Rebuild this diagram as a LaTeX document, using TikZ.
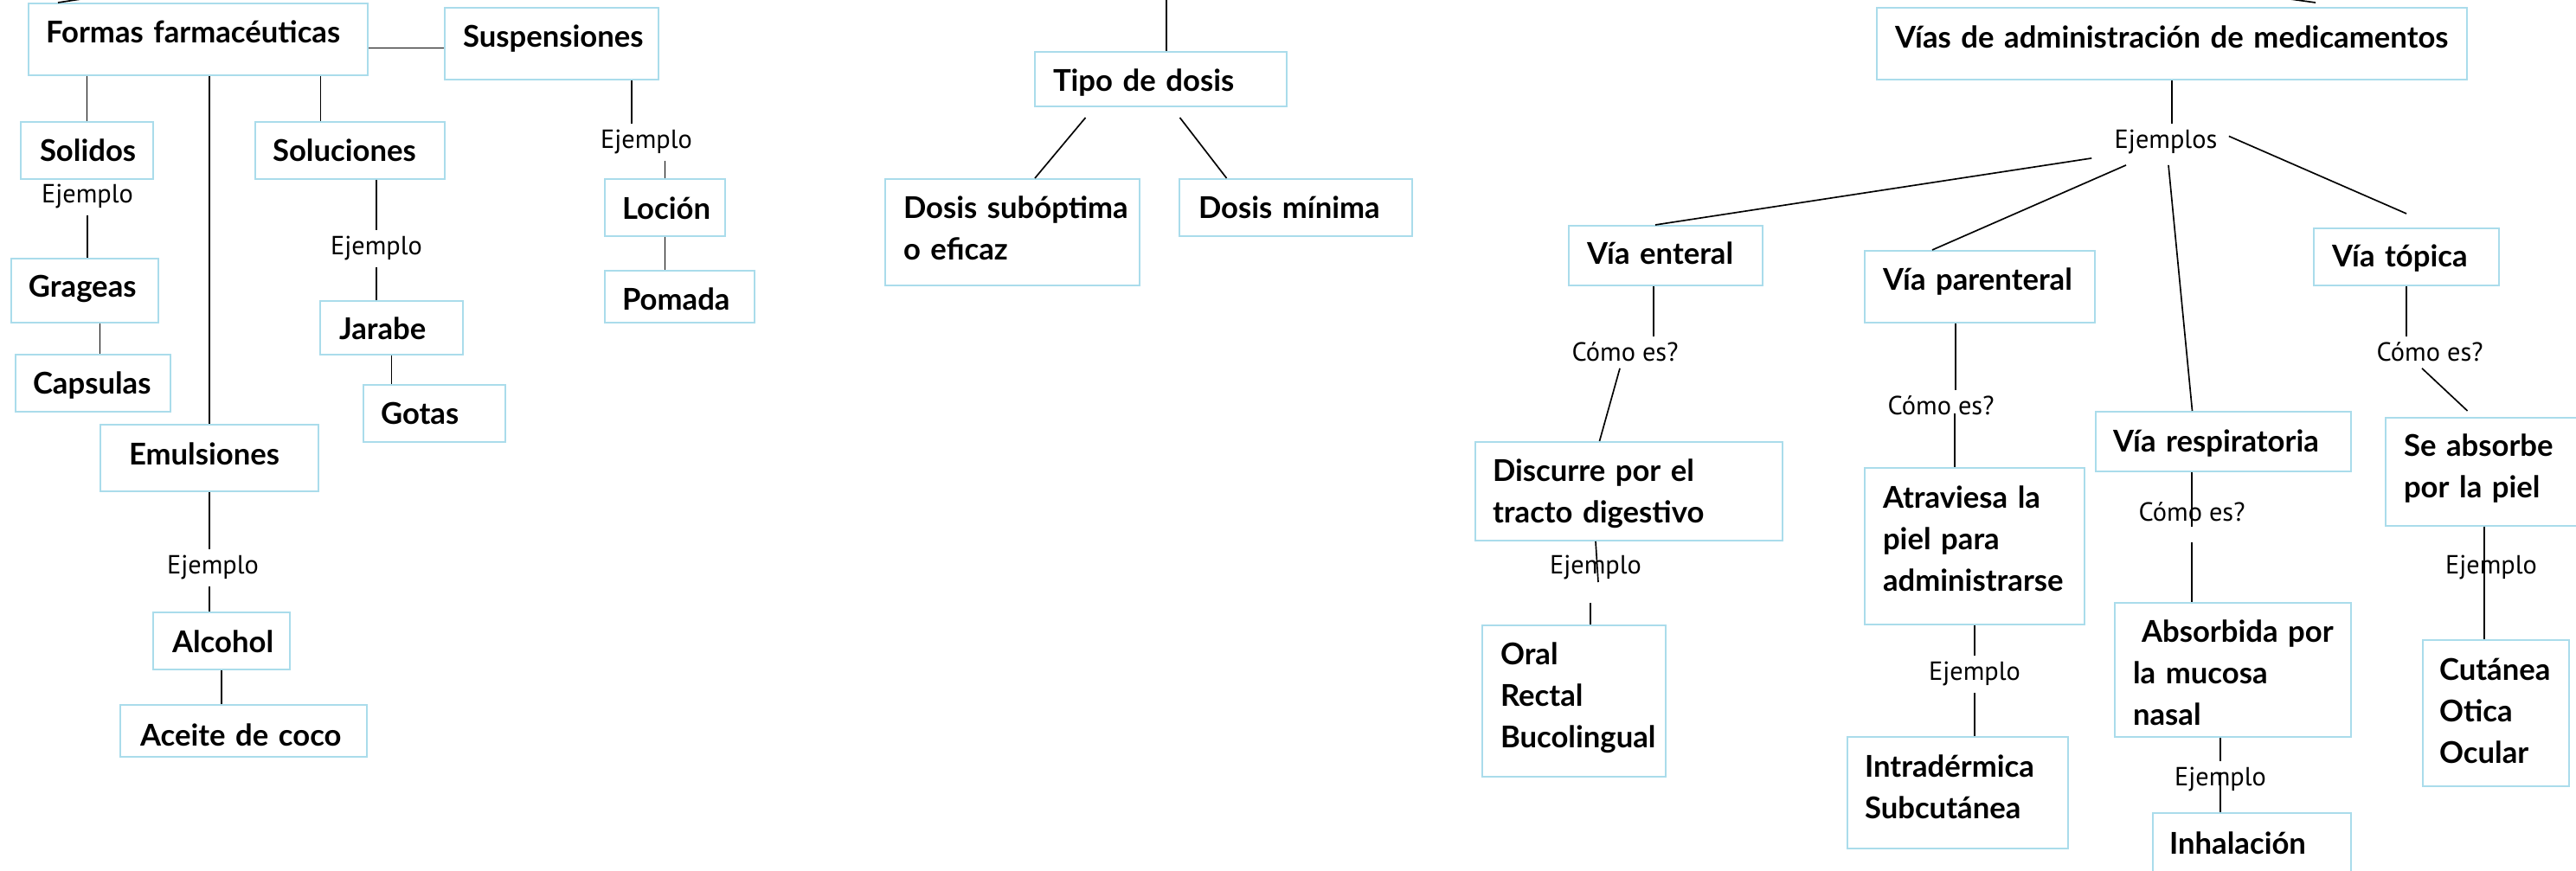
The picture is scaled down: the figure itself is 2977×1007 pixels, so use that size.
\documentclass[tikz,border=0pt]{standalone}
\usepackage{fontspec}
\setmainfont{Lato}
\newfontfamily\ptsans{PT Sans}
\hyphenpenalty=10000
\definecolor{celeste}{RGB}{170,220,235}
\tikzset{
  caja/.style={draw=celeste, line width=0.6pt, anchor=north west, align=left, inner ysep=0pt,
    font=\fontsize{10.4pt}{14.4pt}\selectfont\bfseries},
  medida/.style n args={4}{inner xsep=#1, text width=#2, text height=#3, text depth=#4},
  etiq/.style={anchor=base, inner sep=2pt, font=\ptsans\fontsize{9.1pt}{10pt}\selectfont}
}

\begin{document}
\begin{tikzpicture}[x=0.3pt, y=-0.3pt, line width=0.5pt]
    \useasboundingbox (0,0) rectangle (2977,1007);
    \node[caja, medida={6pt}{105.6pt}{13.8pt}{11.1pt}] (formas) at (32,3) {Formas~farmacéuticas};
    \node[caja, medida={6.3pt}{61.5pt}{13.8pt}{11.1pt}] (susp) at (513,8) {Suspensiones};
    \node[caja, medida={6.6pt}{32.7pt}{13.8pt}{6pt}] (solidos) at (23,140) {Solidos};
    \node[caja, medida={6pt}{53.7pt}{13.8pt}{6pt}] (soluc) at (294,140) {Soluciones};
    \node[caja, medida={6pt}{39pt}{13.5pt}{8.7pt}] (grageas) at (12,298) {Grageas};
    \node[caja, medida={6pt}{41.7pt}{13.8pt}{6pt}] (capsulas) at (17,409) {Capsulas};
    \node[caja, medida={6.6pt}{36.3pt}{13.5pt}{5.1pt}] (jarabe) at (369,347) {Jarabe};
    \node[caja, medida={6pt}{37.2pt}{13.8pt}{6pt}] (gotas) at (419,444) {Gotas};
    \node[caja, medida={6pt}{29.7pt}{14.1pt}{5.7pt}] (locion) at (698,206) {Loción};
    \node[caja, medida={6pt}{39.9pt}{13.8pt}{4.2pt}] (pomada) at (698,312) {Pomada};
    \node[caja, medida={9.9pt}{55.8pt}{14.1pt}{9pt}] (emuls) at (115,490) {Emulsiones};
    \node[caja, medida={6.6pt}{34.2pt}{14.1pt}{5.7pt}] (alcohol) at (176,707) {Alcohol};
    \node[caja, medida={6.9pt}{71.7pt}{14.1pt}{3.9pt}] (aceite) at (138,814) {Aceite~de~coco};
    \node[caja, medida={6.3pt}{74.7pt}{13.8pt}{5.1pt}] (tipo) at (1195,59) {Tipo~de~dosis};
    \node[caja, medida={6.3pt}{75.6pt}{13.8pt}{23.1pt}] (subopt) at (1022,206) {Dosis~subóptima\\o~eficaz};
    \node[caja, medida={6.6pt}{67.5pt}{13.8pt}{6pt}] (minima) at (1362,206) {Dosis~mínima};
    \node[caja, medida={6.3pt}{192pt}{14.1pt}{10.8pt}] (vias) at (2168,8) {Vías~de~administración~de~medicamentos};
    \node[caja, medida={6.3pt}{54.6pt}{13.5pt}{7.2pt}] (enteral) at (1812,260) {Vía~enteral};
    \node[caja, medida={6.3pt}{67.2pt}{13.8pt}{11.1pt}] (parent) at (2154,289) {Vía~parenteral};
    \node[caja, medida={6.3pt}{51.6pt}{13.5pt}{6.3pt}] (topica) at (2673,263) {Vía~tópica};
    \node[caja, medida={6pt}{76.5pt}{14.1pt}{6.6pt}] (resp) at (2421,475) {Vía~respiratoria};
    \node[caja, medida={6.3pt}{59.1pt}{13.5pt}{24pt}] (seabs) at (2756,482) {Se~absorbe\\por~la~piel};
    \node[caja, medida={6pt}{94.5pt}{13.8pt}{20.4pt}] (discurre) at (1704,510) {Discurre~por~el\\tracto~digestivo};
    \node[caja, medida={6.3pt}{51pt}{13.8pt}{38.7pt}] (oral) at (1712,722) {Oral\\Rectal\\Bucolingual};
    \node[caja, medida={6.3pt}{63.6pt}{14.1pt}{40.2pt}] (atrav) at (2154,540) {Atraviesa~la\\piel~para\\administrarse};
    \node[caja, medida={6pt}{64.5pt}{14.1pt}{24.6pt}] (intra) at (2134,851) {Intradérmica\\Subcutánea};
    \node[caja, medida={6.3pt}{69.3pt}{13.8pt}{32.7pt}] (absorb) at (2443,696) {\hspace*{3pt}Absorbida~por\\la~mucosa\\nasal};
    \node[caja, medida={5.7pt}{57.3pt}{14.1pt}{8.7pt}] (inhal) at (2487,939) {Inhalación};
    \node[caja, medida={5.7pt}{39.3pt}{14.1pt}{36.6pt}] (cutanea) at (2799,739) {Cutánea\\Otica\\Ocular};
    \node[etiq] (ej1) at (101,235) {Ejemplo};
    \node[etiq] (ej2) at (435,295) {Ejemplo};
    \node[etiq] (ej3) at (747,172) {Ejemplo};
    \node[etiq] (ej4) at (246,664) {Ejemplo};
    \node[etiq] (ejs) at (2503,172) {Ejemplos};
    \node[etiq] (como1) at (1878,418) {Cómo es?};
    \node[etiq] (como2) at (2243,480) {Cómo es?};
    \node[etiq] (como3) at (2808,418) {Cómo es?};
    \node[etiq] (como4) at (2533,603) {Cómo es?};
    \node[etiq] (ej5) at (1844,664) {Ejemplo};
    \node[etiq] (ej6) at (2282,787) {Ejemplo};
    \node[etiq] (ej7) at (2566,909) {Ejemplo};
    \node[etiq] (ej8) at (2879,664) {Ejemplo};
    \coordinate (arriba) at (1348,-60);
    \coordinate (izq) at (200,-17);
    \coordinate (der) at (2500,-21);
    \draw ([shift={(35,0)}]formas.north west) -- (izq);
    \draw ([shift={(166,-5)}]vias.north) -- (der);
    \draw ([shift={(0,10)}]formas.east) -- ([shift={(0,10)}]formas.east -| susp.west);
    \draw (formas.south -| solidos) -- (solidos);
    \draw (ej1.south) -- (ej1.south |- grageas.north);
    \draw ([shift={(8,0)}]capsulas.north |- grageas.south) -- ([shift={(8,0)}]capsulas.north);
    \draw (formas.south -| emuls) -- (emuls);
    \draw ([shift={(-34,0)}]soluc.north |- formas.south) -- ([shift={(-34,0)}]soluc.north);
    \draw (soluc.south -| ej2) -- (ej2.north);
    \draw (ej2.south) -- (ej2.south |- jarabe.north);
    \draw (jarabe.south) -- (jarabe.south |- gotas.north);
    \draw ([shift={(-17,0)}]susp.south -| ej3) -- ([shift={(-17,0)}]ej3.north);
    \draw (ej3.south -| locion) -- (locion);
    \draw (locion) -- (locion |- pomada.north);
    \draw (emuls) -- (emuls |- ej4.north);
    \draw (emuls |- ej4.south) -- (emuls |- alcohol.north);
    \draw (alcohol) -- (alcohol |- aceite.north);
    \draw (arriba) -- (arriba |- tipo.north);
    \draw ([shift={(-87,12)}]tipo.south) -- ([shift={(26,0)}]subopt.north);
    \draw ([shift={(22,12)}]tipo.south) -- ([shift={(-80,0)}]minima.north);
    \draw (vias) -- (vias |- ejs.north);
    \draw ([shift={(-19,-3)}]ejs.south west) -- ([shift={(-12,0)}]enteral.north);
    \draw ([shift={(-46,5)}]ejs.south) -- ([shift={(-55,0)}]parent.north);
    \draw ([shift={(3,5)}]ejs.south) -- ([shift={(-36,0)}]resp.north);
    \draw ([shift={(6,-7)}]ejs.east) -- ([shift={(0,-16)}]topica.north);
    \draw ([shift={(-14,0)}]enteral.south) -- ([shift={(-14,0)}]enteral.south |- como1.north);
    \draw ([shift={(-6,0)}]como1.south) -- ([shift={(-34,0)}]discurre.north);
    \draw ([shift={(-28,0)}]parent.south) -- ([shift={(-28,0)}]parent.south |- como2.north);
    \draw ([shift={(16,-2)}]como2.base) -- ([shift={(16,0)}]como2.base |- atrav.north);
    \draw (topica) -- (topica |- como3.north);
    \draw (resp.south -| como4) -- ([shift={(0,6)}]como4.base);
    \draw ([shift={(0,24)}]como4.base) -- (como4 |- absorb.north);
    \draw (ej5 |- discurre.south) -- ([shift={(3,9)}]ej5.base);
    \draw ([shift={(-6,33)}]ej5.base) -- ([shift={(-6,0)}]ej5.base |- oral.north);
    \draw (atrav) -- (atrav |- ej6.north);
    \draw (atrav |- ej6.south) -- (atrav |- intra.north);
    \draw (ej7 |- absorb.south) -- (ej7.north);
    \draw ([shift={(0,-16)}]ej7.base) -- (ej7 |- inhal.north);
    \draw ([shift={(-8,0)}]ej8 |- seabs.south) -- ([shift={(-8,0)}]ej8 |- cutanea.north);
    \draw ([shift={(-9,0)}]como3.south) -- ([shift={(-25,-7)}]seabs.north);
\end{tikzpicture}
\end{document}
